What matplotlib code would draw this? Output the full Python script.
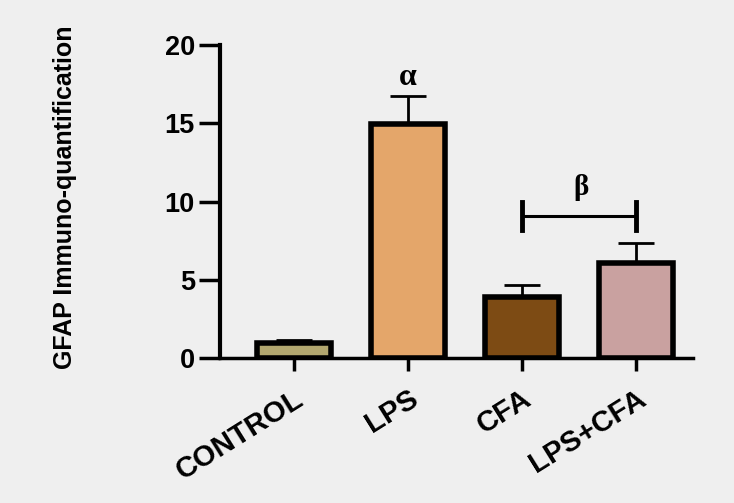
import matplotlib
matplotlib.use("Agg")
import matplotlib.pyplot as plt
from matplotlib.transforms import ScaledTranslation

categories = ["CONTROL", "LPS", "CFA", "LPS+CFA"]
means = [0.95, 14.95, 3.9, 6.1]
errors = [0.2, 1.8, 0.8, 1.25]
colors = ["#b2a76f", "#e4a66a", "#7d4b14", "#c9a1a0"]
yticks = [0, 5, 10, 15, 20]
ylabel = "GFAP Immuno-quantification"

bg = "#efefef"
fig = plt.figure(figsize=(7.34, 5.03), dpi=100, facecolor=bg)
ax = fig.add_axes([0.2997, 0.288, 0.644, 0.6225], facecolor=bg)

x = list(range(len(categories)))
ax.bar(x, means, width=0.65, color=colors, edgecolor="black", linewidth=4, zorder=3)
ax.errorbar(x, means, yerr=[[0]*len(means), errors], fmt="none", ecolor="black",
            elinewidth=2, capsize=13, capthick=2, zorder=2)

ax.set_xlim(-0.65, 3.5)
ax.set_ylim(0, 20)
ax.set_yticks(yticks)
ax.set_xticks(x)
ax.set_xticklabels(categories, rotation=32, ha="right", va="top", rotation_mode="anchor",
                   fontsize=21, fontweight="bold", family="Liberation Sans")
offset = ScaledTranslation(16 / 100, 0, fig.dpi_scale_trans)
for lab in ax.get_xticklabels():
    lab.set_transform(lab.get_transform() + offset)
for lab in ax.get_yticklabels():
    lab.set_fontsize(19.5)
    lab.set_fontweight("bold")
    lab.set_family("Liberation Sans")

for s in ["top", "right"]:
    ax.spines[s].set_visible(False)
ax.spines["left"].set_linewidth(3)
ax.spines["bottom"].set_linewidth(2.5)
ax.tick_params(axis="y", length=15, width=2.5, pad=3)
ax.tick_params(axis="x", length=9, width=2.5, pad=10)

# annotations
ax.text(1, 17.9, "α", ha="center", va="center", fontsize=23, fontweight="bold",
        family="Liberation Serif")
ax.plot([2, 3], [9.1, 9.1], color="black", lw=2.2, zorder=4)
ax.plot([2, 2], [8.2, 10.0], color="black", lw=3.5, zorder=4)
ax.plot([3, 3], [8.2, 10.0], color="black", lw=3.5, zorder=4)
ax.text(2.52, 10.9, "β", ha="center", va="center", fontsize=21, fontweight="bold",
        family="Liberation Serif")

fig.text(0.088, 1 - 197 / 503, ylabel, rotation=90, ha="center", va="center",
         fontsize=18, fontweight="bold", family="Liberation Sans")

fig.savefig("out.png", dpi=100, facecolor=bg)
